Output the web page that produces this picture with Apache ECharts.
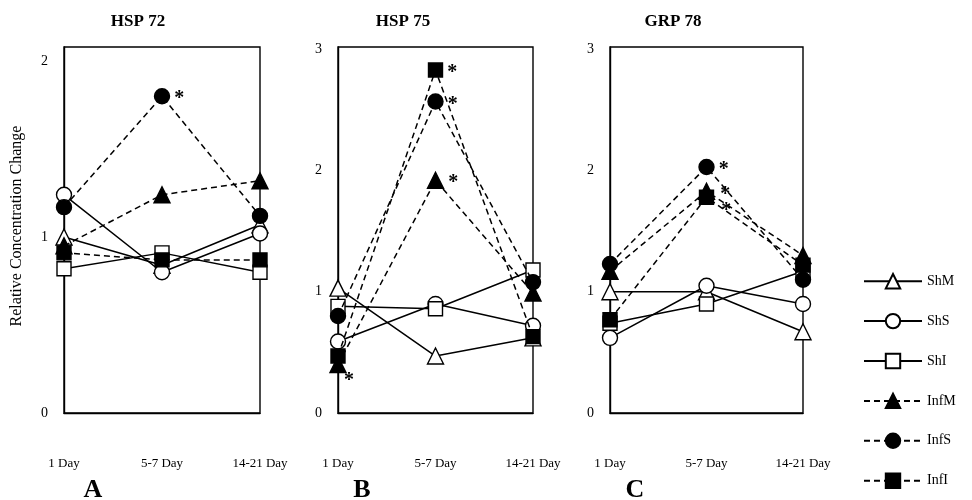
<!DOCTYPE html>
<html>
<head>
<meta charset="utf-8">
<script src="https://cdn.jsdelivr.net/npm/echarts@6/dist/echarts.min.js"></script>
<style>
html,body{margin:0;padding:0;background:#fff;}
#chart{width:972px;height:500px;}
</style>
</head>
<body>
<div id="chart"></div>
<script>
// ---- data ----
const categories = ['1 Day', '5-7 Day', '14-21 Day'];
const seriesNames = ['ShM', 'ShS', 'ShI', 'InfM', 'InfS', 'InfI'];

// HSP 72
const hsp72ShM  = [1.00, 0.84, 1.07];
const hsp72ShS  = [1.24, 0.80, 1.02];
const hsp72ShI  = [0.82, 0.91, 0.80];
const hsp72InfM = [0.95, 1.24, 1.32];
const hsp72InfS = [1.17, 1.80, 1.12];
const hsp72InfI = [0.91, 0.87, 0.87];
const hsp72Stars = [['InfS', 1]];

// HSP 75
const hsp75ShM  = [1.03, 0.47, 0.62];
const hsp75ShS  = [0.59, 0.90, 0.72];
const hsp75ShI  = [0.88, 0.86, 1.18];
const hsp75InfM = [0.40, 1.92, 0.99];
const hsp75InfS = [0.80, 2.57, 1.08];
const hsp75InfI = [0.47, 2.83, 0.63];
const hsp75Stars = [['InfI', 1], ['InfS', 1], ['InfM', 1], ['InfM', 0]];

// GRP 78
const grp78ShM  = [1.00, 1.00, 0.67];
const grp78ShS  = [0.62, 1.05, 0.90];
const grp78ShI  = [0.74, 0.90, 1.17];
const grp78InfM = [1.17, 1.83, 1.30];
const grp78InfS = [1.23, 2.03, 1.10];
const grp78InfI = [0.77, 1.78, 1.22];
const grp78Stars = [['InfS', 1], ['InfM', 1], ['InfI', 1]];

const yTicksA = [0, 1, 2];
const yTicksBC = [0, 1, 2, 3];

// ---- layout / build ----
const panels = [
  {title: 'HSP 72', letter: 'A', max: 2.08, ticks: yTicksA, stars: hsp72Stars,
   data: {ShM: hsp72ShM, ShS: hsp72ShS, ShI: hsp72ShI, InfM: hsp72InfM, InfS: hsp72InfS, InfI: hsp72InfI},
   left: 64, width: 196, titleX: 133, letterX: 88},
  {title: 'HSP 75', letter: 'B', max: 3.02, ticks: yTicksBC, stars: hsp75Stars,
   data: {ShM: hsp75ShM, ShS: hsp75ShS, ShI: hsp75ShI, InfM: hsp75InfM, InfS: hsp75InfS, InfI: hsp75InfI},
   left: 338, width: 195, titleX: 398, letterX: 357},
  {title: 'GRP 78', letter: 'C', max: 3.02, ticks: yTicksBC, stars: grp78Stars,
   data: {ShM: grp78ShM, ShS: grp78ShS, ShI: grp78ShI, InfM: grp78InfM, InfS: grp78InfS, InfI: grp78InfI},
   left: 610, width: 193, titleX: 668, letterX: 630}
];

const FONT = '"Liberation Serif", "DejaVu Serif", serif';
const symbolOf = {M: 'triangle', S: 'circle', I: 'rect'};
const gridTop = 47, gridHeight = 366;

// star label offsets per panel/series
function starOffset(pi, name, i) {
  if (i === 0) return {position: 'bottom', distance: 0, offset: [11, -2]};
  if (pi === 2 && name === 'InfM') return {position: 'right', distance: 3, offset: [2, 4]};
  if (pi === 2 && name === 'InfI') return {position: 'right', distance: 3, offset: [4, 14]};
  return {position: 'right', distance: 4, offset: [0, 3]};
}

const grids = [], xAxes = [], yAxes = [], series = [], titles = [];

panels.forEach((p, pi) => {
  grids.push({left: p.left, top: gridTop, width: p.width, height: gridHeight,
    show: true, borderColor: '#000', borderWidth: 1.4, backgroundColor: 'transparent'});
  xAxes.push({type: 'category', gridIndex: pi, data: categories, boundaryGap: false,
    axisLine: {show: true, lineStyle: {color: '#000', width: 1.4}},
    axisTick: {show: false},
    axisLabel: {color: '#000', fontFamily: FONT, fontSize: 13, margin: 44, interval: 0}});
  yAxes.push({type: 'value', gridIndex: pi, min: 0, max: p.max, interval: 1,
    axisLine: {show: true, lineStyle: {color: '#000', width: 1.4}},
    axisTick: {show: false}, splitLine: {show: false},
    axisLabel: {color: '#000', fontFamily: FONT, fontSize: 14, margin: 16,
      formatter: v => (p.ticks.indexOf(v) >= 0 ? String(v) : '')}});
  titles.push({text: p.title, left: p.titleX, top: 8, textAlign: 'center',
    textStyle: {fontFamily: FONT, fontSize: 17, fontWeight: 'bold', color: '#000'}});
  titles.push({text: p.letter, left: p.letterX, top: 472, textAlign: 'center',
    textStyle: {fontFamily: FONT, fontSize: 26, fontWeight: 'bold', color: '#000'}});

  seriesNames.forEach(name => {
    const inf = name.startsWith('Inf');
    const sym = symbolOf[name.slice(-1)];
    const vals = p.data[name];
    const data = vals.map((v, i) => {
      const star = p.stars.find(s => s[0] === name && s[1] === i);
      if (!star) return v;
      const o = starOffset(pi, name, i);
      return {value: v, label: Object.assign({show: true, formatter: '*',
        fontFamily: FONT, fontSize: 20, fontWeight: 'bold', color: '#000'}, o)};
    });
    series.push({
      name: name, type: 'line', xAxisIndex: pi, yAxisIndex: pi, data: data,
      symbol: sym, symbolSize: sym === 'triangle' ? 16 : (sym === 'rect' ? 14 : 15), showSymbol: true,
      lineStyle: {color: '#000', width: 1.5, type: inf ? [6, 4] : 'solid'},
      itemStyle: {color: inf ? '#000' : '#fff', borderColor: '#000', borderWidth: 1.4},
      emphasis: {disabled: true}, z: inf ? 3 : 2
    });
  });
});

const chart = echarts.init(document.getElementById('chart'), null, {renderer: 'canvas'});
chart.setOption({
  animation: false,
  backgroundColor: '#fff',
  title: titles,
  graphic: [{type: 'text', x: 17, y: 226, rotation: Math.PI / 2,
    style: {text: 'Relative Concentration Change', font: '16px ' + FONT, fill: '#000',
      align: 'center', verticalAlign: 'middle'}}],
  legend: {orient: 'vertical', left: 858, top: 268, itemWidth: 58, itemHeight: 18, itemGap: 23.5,
    data: seriesNames, selectedMode: false,
    textStyle: {fontFamily: FONT, fontSize: 14, color: '#000'}},
  grid: grids, xAxis: xAxes, yAxis: yAxes, series: series
});
</script>
</body>
</html>
